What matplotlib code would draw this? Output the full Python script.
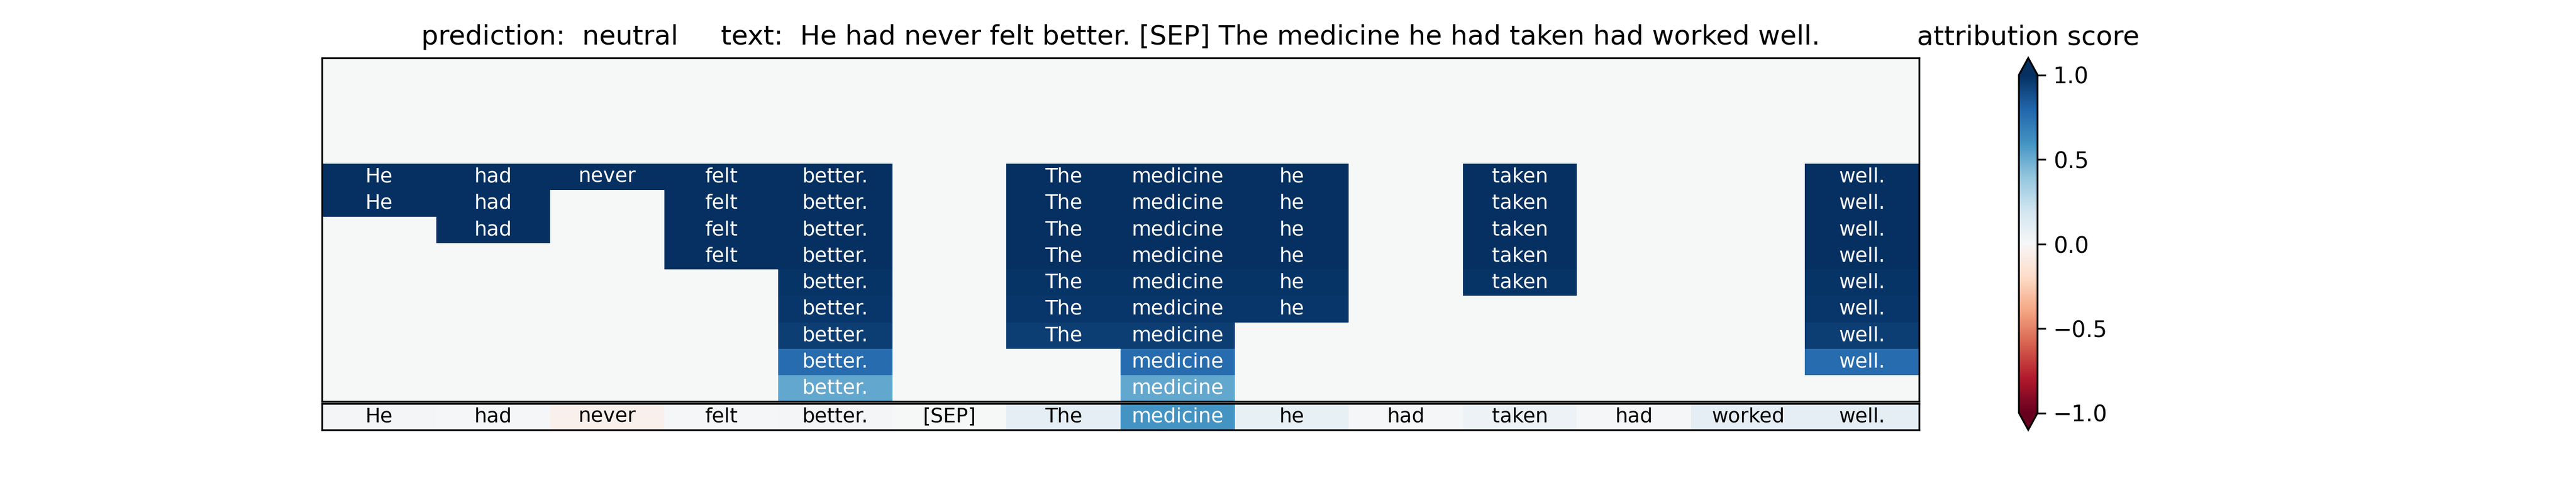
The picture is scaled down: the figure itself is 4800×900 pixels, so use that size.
import numpy as np
import matplotlib
matplotlib.use("Agg")
import matplotlib.pyplot as plt

tokens = ["He", "had", "never", "felt", "better.", "[SEP]", "The", "medicine",
          "he", "had", "taken", "had", "worked", "well."]
prediction = "neutral"

# per-layer scores (rows = layers, cols = tokens); 0 = not highlighted
layer_scores = [
    [0, 0, 0, 0, 0, 0, 0, 0, 0, 0, 0, 0, 0, 0],
    [0, 0, 0, 0, 0, 0, 0, 0, 0, 0, 0, 0, 0, 0],
    [0, 0, 0, 0, 0, 0, 0, 0, 0, 0, 0, 0, 0, 0],
    [0, 0, 0, 0, 0, 0, 0, 0, 0, 0, 0, 0, 0, 0],
    [1.0, 1.0, 1.0, 1.0, 1.0, 0, 1.0, 1.0, 1.0, 0, 1.0, 0, 0, 1.0],
    [1.0, 1.0, 0, 1.0, 1.0, 0, 1.0, 1.0, 1.0, 0, 1.0, 0, 0, 1.0],
    [0, 1.0, 0, 1.0, 1.0, 0, 1.0, 1.0, 1.0, 0, 1.0, 0, 0, 1.0],
    [0, 0, 0, 1.0, 1.0, 0, 1.0, 1.0, 1.0, 0, 1.0, 0, 0, 1.0],
    [0, 0, 0, 0, 0.98, 0, 0.98, 0.98, 0.98, 0, 0.98, 0, 0, 0.98],
    [0, 0, 0, 0, 0.97, 0, 0.97, 0.97, 0.97, 0, 0, 0, 0, 0.97],
    [0, 0, 0, 0, 0.95, 0, 0.95, 0.95, 0, 0, 0, 0, 0, 0.95],
    [0, 0, 0, 0, 0.77, 0, 0, 0.77, 0, 0, 0, 0, 0, 0.77],
    [0, 0, 0, 0, 0.52, 0, 0, 0.52, 0, 0, 0, 0, 0, 0],
]

# overall attribution per token (bottom strip)
total_scores = [0.02, 0.01, -0.05, 0.01, 0.02, 0.0, 0.1, 0.6,
                0.08, 0.01, 0.06, 0.01, 0.1, 0.1]

layers = np.array(layer_scores)
total = np.array([total_scores])

fig, (ax1, ax2) = plt.subplots(2, 1, figsize=(16, 3),
                               gridspec_kw={"height_ratios": [13, 1], "hspace": 0.01})

mesh = ax1.pcolormesh(layers, cmap="RdBu", vmin=-1, vmax=1, antialiased=True)
ax1.set_xlim(0, len(tokens))
ax1.set_ylim(layers.shape[0], 0)
for i in range(layers.shape[0]):
    for j, tok in enumerate(tokens):
        if layers[i, j] != 0:
            ax1.text(j + 0.5, i + 0.5, tok, ha="center", va="center",
                     fontsize=9, color="white")
ax1.set_xticks([])
ax1.set_yticks([])
ax1.set_title("prediction:  " + prediction + "     text:  " + " ".join(tokens), fontsize=12)

ax2.pcolormesh(total, cmap="RdBu", vmin=-1, vmax=1, antialiased=True)
ax2.set_xlim(0, len(tokens))
ax2.set_ylim(1, 0)
for j, tok in enumerate(tokens):
    c = "white" if abs(total[0, j]) > 0.3 else "black"
    ax2.text(j + 0.5, 0.5, tok, ha="center", va="center", fontsize=9, color=c)
ax2.set_xticks([])
ax2.set_yticks([])

cbar = fig.colorbar(mesh, ax=[ax1, ax2], extend="both")
cbar.ax.set_title("attribution score", fontsize=12)

fig.savefig("out.png", dpi=300)
